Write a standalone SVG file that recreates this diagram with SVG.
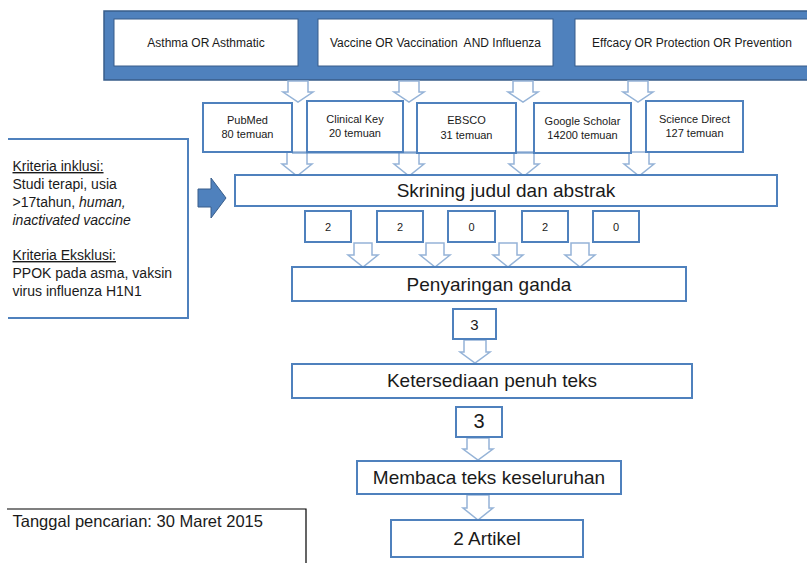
<svg xmlns="http://www.w3.org/2000/svg" width="807" height="563" viewBox="0 0 807 563">
<style>
text{font-family:"Liberation Sans",Arial,sans-serif;fill:#1a1a1a}
.box{fill:#fff;stroke:#4F81BD;stroke-width:2}
.qbox{fill:#fff;stroke:#385D8A;stroke-width:1}
.arr{fill:#fff;stroke:#95B3D7;stroke-width:1.5;stroke-linejoin:miter}
.t12{font-size:12px;text-anchor:middle}
.t11{font-size:11px;text-anchor:middle}
.t19{font-size:19px;text-anchor:middle}
.t14{font-size:14px}
</style>
<rect width="807" height="563" fill="#fff"/>
<g id="search-bar">
<rect x="104" y="11" width="710" height="69" fill="#4F81BD" stroke="#385D8A" stroke-width="1.5"/>
</g>
<g id="connectors">
<path class="arr" d="M288,81 H308 V92 H313 L298,102 L283,92 H288 Z"/>
<path class="arr" d="M399,81 H419 V92 H424 L409,102 L394,92 H399 Z"/>
<path class="arr" d="M513,81 H533 V92 H538 L523,102 L508,92 H513 Z"/>
<path class="arr" d="M628,81 H648 V92 H653 L638,102 L623,92 H628 Z"/>
<path class="arr" d="M287,152 H307 V164 H312 L297,176 L282,164 H287 Z"/>
<path class="arr" d="M399,152 H419 V164 H424 L409,176 L394,164 H399 Z"/>
<path class="arr" d="M514,152 H534 V164 H539 L524,176 L509,164 H514 Z"/>
<path class="arr" d="M629,152 H649 V164 H654 L639,176 L624,164 H629 Z"/>
<line x1="292" y1="153" x2="534" y2="153" stroke="#4F81BD" stroke-width="1"/>
<path class="arr" d="M354,243 H372 V255 H378 L363,267 L348,255 H354 Z"/>
<path class="arr" d="M426,243 H444 V255 H450 L435,267 L420,255 H426 Z"/>
<path class="arr" d="M499,243 H517 V255 H523 L508,267 L493,255 H499 Z"/>
<path class="arr" d="M571,243 H589 V255 H595 L580,267 L565,255 H571 Z"/>
<path class="arr" d="M464,340 H486 V352 H490 L475,363 L460,352 H464 Z"/>
<path class="arr" d="M467,438 H489 V449 H493 L478,460 L463,449 H467 Z"/>
<path class="arr" d="M467,495 H489 V508 H493 L478,520 L463,508 H467 Z"/>
<path d="M198,189 H211 V178 L226,198 L211,218 V207 H198 Z" fill="#4F81BD" stroke="#385D8A" stroke-width="1"/>
</g>
<g id="q-asthma">
<rect class="qbox" x="114" y="19" width="184" height="47"/>
<text class="t12" x="206" y="47">Asthma OR Asthmatic</text>
</g>
<g id="q-vaccine">
<rect class="qbox" x="318" y="19" width="235" height="47"/>
<text class="t12" x="435.5" y="47" xml:space="preserve">Vaccine OR Vaccination  AND Influenza</text>
</g>
<g id="q-efficacy">
<rect class="qbox" x="575" y="19" width="240" height="47"/>
<text class="t12" x="692" y="47">Effcacy OR Protection OR Prevention</text>
</g>
<g id="db-pubmed">
<rect class="box" x="203" y="103" width="89" height="49"/>
<text class="t11" x="247.5" y="124">PubMed</text>
<text class="t11" x="247.5" y="138">80 temuan</text>
</g>
<g id="db-clinicalkey">
<rect class="box" x="307" y="101" width="96" height="51"/>
<text class="t11" x="355" y="123">Clinical Key</text>
<text class="t11" x="355" y="137">20 temuan</text>
</g>
<g id="db-ebsco">
<rect class="box" x="417" y="103" width="99" height="50"/>
<text class="t11" x="466.5" y="124">EBSCO</text>
<text class="t11" x="466.5" y="139">31 temuan</text>
</g>
<g id="db-google">
<rect class="box" x="534" y="103" width="97" height="50"/>
<text class="t11" x="582.5" y="125">Google Scholar</text>
<text class="t11" x="582.5" y="139">14200 temuan</text>
</g>
<g id="db-sciencedirect">
<rect class="box" x="646" y="101" width="97" height="51"/>
<text class="t11" x="694.5" y="123">Science Direct</text>
<text class="t11" x="694.5" y="137">127 temuan</text>
</g>
<g id="skrining">
<rect class="box" x="235" y="175" width="542" height="31"/>
<text class="t19" x="506" y="197">Skrining judul dan abstrak</text>
</g>
<g id="kriteria">
<polyline points="8,139 188,139 188,318 8,318" fill="none" stroke="#4F81BD" stroke-width="2"/>
<text class="t14" x="12.5" y="171" text-decoration="underline">Kriteria inklusi:</text>
<text class="t14" x="12.5" y="189">Studi terapi, usia</text>
<text class="t14" x="12.5" y="207">&gt;17tahun, <tspan font-style="italic">human,</tspan></text>
<text class="t14" x="12.5" y="225" font-style="italic">inactivated vaccine</text>
<text class="t14" x="12.5" y="260" text-decoration="underline">Kriteria Eksklusi:</text>
<text class="t14" x="12.5" y="278">PPOK pada asma, vaksin</text>
<text class="t14" x="12.5" y="296">virus influenza H1N1</text>
</g>
<g id="n-pubmed">
<rect class="box" x="305" y="211" width="46" height="31"/>
<text class="t11" x="328" y="231">2</text>
</g>
<g id="n-clinicalkey">
<rect class="box" x="377" y="211" width="46" height="31"/>
<text class="t11" x="400" y="231">2</text>
</g>
<g id="n-ebsco">
<rect class="box" x="448" y="211" width="47" height="31"/>
<text class="t11" x="471.5" y="231">0</text>
</g>
<g id="n-google">
<rect class="box" x="522" y="211" width="46" height="31"/>
<text class="t11" x="545" y="231">2</text>
</g>
<g id="n-sciencedirect">
<rect class="box" x="593" y="211" width="46" height="31"/>
<text class="t11" x="616" y="231">0</text>
</g>
<g id="penyaringan">
<rect class="box" x="292" y="267" width="394" height="34"/>
<text class="t19" x="489" y="291">Penyaringan ganda</text>
</g>
<g id="n-after-penyaringan">
<rect class="box" x="453" y="309" width="43" height="30"/>
<text class="t12" x="474.5" y="330" style="font-size:15px">3</text>
</g>
<g id="ketersediaan">
<rect class="box" x="292" y="364" width="400" height="34"/>
<text class="t19" x="492" y="387">Ketersediaan penuh teks</text>
</g>
<g id="n-after-ketersediaan">
<rect class="box" x="456" y="407" width="46" height="30"/>
<text class="t19" x="479" y="428" style="font-size:20px">3</text>
</g>
<g id="membaca">
<rect class="box" x="357" y="461" width="264" height="33"/>
<text class="t19" x="489" y="484">Membaca teks keseluruhan</text>
</g>
<g id="artikel">
<rect class="box" x="391" y="520" width="192" height="37"/>
<text class="t19" x="487" y="545">2 Artikel</text>
</g>
<g id="tanggal">
<polyline points="7,509 306,509 306,563" fill="none" stroke="#000" stroke-width="1.2"/>
<text x="12.5" y="527" style="font-size:16.5px">Tanggal pencarian: 30 Maret 2015</text>
</g>
</svg>
